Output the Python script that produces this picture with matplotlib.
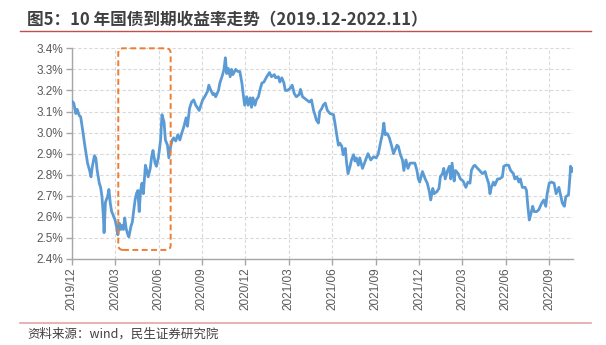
import matplotlib
matplotlib.use('Agg')
import matplotlib.pyplot as plt
from matplotlib.patches import FancyBboxPatch
from matplotlib.ticker import FuncFormatter, MultipleLocator

plt.rcParams['font.family'] = ['Noto Sans CJK SC', 'DejaVu Sans']

# trading-day index (category axis) and 10Y CGB yield, %
trade_day = [0, 3, 6, 8, 11, 13, 16, 19, 23, 26, 28, 30, 33, 35, 37, 40, 42, 44, 46, 47,
             49, 52, 54, 56, 58, 60, 63, 65, 67, 69, 71, 73, 75, 77, 79, 81, 83, 86, 88, 90,
             92, 94, 96, 98, 100, 102, 104, 107, 109, 111, 114, 116, 118, 121, 123, 126, 129, 131, 134, 136,
             139, 141, 144, 146, 148, 151, 154, 157, 160, 163, 166, 168, 171, 174, 177, 180, 182, 185, 190, 193,
             197, 199, 202, 205, 207, 209, 213, 215, 219, 221, 223, 225, 227, 230, 232, 234, 238, 241, 244, 247,
             249, 251, 254, 256, 259, 261, 263, 266, 268, 271, 273, 276, 279, 283, 287, 290, 294, 296, 300, 302,
             305, 308, 310, 313, 317, 320, 323, 326, 330, 332, 335, 337, 341, 345, 348, 351, 353, 355, 358, 360,
             363, 365, 368, 371, 375, 380, 382, 385, 387, 389, 392, 394, 397, 399, 401, 404, 406, 409, 411, 413,
             416, 418, 422, 426, 430, 434, 438, 442, 445, 448, 451, 453, 455, 458, 461, 464, 467, 469, 472, 474,
             477, 480, 482, 485, 488, 491, 495, 498, 501, 503, 505, 509, 513, 516, 519, 521, 524, 526, 530, 533,
             535, 538, 540, 542, 545, 548, 550, 552, 555, 557, 561, 564, 568, 572, 575, 578, 580, 583, 585, 589,
             592, 596, 600, 602, 605, 607, 609, 612, 614, 618, 621, 625, 627, 630, 634, 637, 641, 643, 646, 649,
             651, 654, 658, 660, 662, 664, 666, 669, 671, 675, 678, 682, 685, 688, 690, 693, 696, 700, 703, 705,
             707, 710, 712, 715, 717, 721, 723, 724, 726, 727]
yield_pct = [3.15, 3.14, 3.09, 3.11, 3.08, 3.075, 3.01, 2.94, 2.855, 2.82, 2.79, 2.84, 2.89, 2.88, 2.82, 2.76, 2.74, 2.695, 2.60, 2.525,
             2.67, 2.695, 2.73, 2.665, 2.625, 2.61, 2.585, 2.555, 2.515, 2.57, 2.54, 2.56, 2.54, 2.595, 2.545, 2.52, 2.505, 2.555, 2.575, 2.63,
             2.68, 2.71, 2.725, 2.625, 2.725, 2.76, 2.71, 2.845, 2.82, 2.79, 2.83, 2.885, 2.915, 2.855, 2.84, 2.885, 2.965, 3.085, 3.05, 2.965,
             2.94, 2.88, 2.94, 2.965, 2.975, 2.96, 2.99, 2.965, 3.00, 3.03, 3.07, 3.03, 3.115, 3.145, 3.155, 3.13, 3.12, 3.105, 3.155, 3.17,
             3.195, 3.225, 3.20, 3.18, 3.185, 3.17, 3.20, 3.235, 3.275, 3.30, 3.355, 3.28, 3.305, 3.265, 3.30, 3.275, 3.30, 3.29, 3.29, 3.235,
             3.18, 3.13, 3.17, 3.13, 3.165, 3.12, 3.165, 3.13, 3.155, 3.17, 3.20, 3.235, 3.24, 3.265, 3.285, 3.265, 3.275, 3.26, 3.265, 3.24,
             3.26, 3.235, 3.20, 3.20, 3.21, 3.225, 3.185, 3.17, 3.18, 3.205, 3.17, 3.165, 3.155, 3.145, 3.155, 3.105, 3.085, 3.06, 3.045, 3.10,
             3.115, 3.13, 3.14, 3.105, 3.09, 3.085, 3.045, 2.98, 2.94, 2.95, 2.935, 2.895, 2.925, 2.855, 2.805, 2.84, 2.87, 2.895, 2.865, 2.88,
             2.845, 2.88, 2.83, 2.865, 2.90, 2.87, 2.885, 2.88, 2.90, 2.95, 2.995, 3.045, 2.99, 2.995, 2.975, 2.94, 2.90, 2.915, 2.94, 2.935,
             2.895, 2.87, 2.82, 2.87, 2.83, 2.855, 2.855, 2.855, 2.82, 2.78, 2.765, 2.815, 2.78, 2.76, 2.72, 2.68, 2.735, 2.71, 2.72, 2.735,
             2.79, 2.805, 2.83, 2.78, 2.815, 2.84, 2.78, 2.855, 2.77, 2.82, 2.805, 2.78, 2.77, 2.74, 2.765, 2.76, 2.82, 2.84, 2.845, 2.83,
             2.82, 2.805, 2.815, 2.79, 2.76, 2.71, 2.74, 2.765, 2.75, 2.78, 2.78, 2.79, 2.84, 2.845, 2.845, 2.82, 2.805, 2.78, 2.79, 2.765,
             2.78, 2.74, 2.74, 2.725, 2.65, 2.585, 2.61, 2.65, 2.625, 2.625, 2.635, 2.665, 2.68, 2.65, 2.71, 2.76, 2.765, 2.76, 2.71, 2.725,
             2.74, 2.695, 2.665, 2.65, 2.695, 2.705, 2.79, 2.84, 2.815, 2.83]

tick_step = 63
tick_labels = ['2019/12', '2020/03', '2020/06', '2020/09', '2020/12', '2021/03',
               '2021/06', '2021/09', '2021/12', '2022/03', '2022/06', '2022/09']

# highlighted window (trading-day index range, yield range)
box_days = (67.6, 143.6)
box_yield = (2.443, 3.40)

title = '图5：10 年国债到期收益率走势（2019.12-2022.11）'
source = '资料来源：wind，民生证券研究院'

fig = plt.figure(figsize=(6.06, 3.45), dpi=100)
ax = fig.add_axes([0.1183, 0.2493, 0.8267, 0.6107])

ax.plot(trade_day, yield_pct, color='#5B9BD5', lw=2.0, solid_joinstyle='round', zorder=3)

ax.set_xlim(0, trade_day[-1])
ax.set_ylim(2.4, 3.4)
ax.yaxis.set_major_locator(MultipleLocator(0.1))
ax.yaxis.set_major_formatter(FuncFormatter(lambda v, p: '{:.1f}%'.format(v)))
ax.set_xticks([i * tick_step for i in range(len(tick_labels))])
ax.set_xticklabels(tick_labels, rotation=90)

for lab in ax.get_xticklabels() + ax.get_yticklabels():
    lab.set_family(['Liberation Sans', 'DejaVu Sans'])
    lab.set_fontsize(8.5)
    lab.set_color('#595959')

ax.grid(True, color='#D9D9D9', linestyle=(0, (3, 2)), lw=0.8, zorder=0)
for s in ['top', 'right']:
    ax.spines[s].set_visible(False)
for s in ['left', 'bottom']:
    ax.spines[s].set_color('#A6A6A6')
    ax.spines[s].set_linewidth(1.0)
ax.tick_params(axis='both', color='#A6A6A6', length=4, width=1.0, pad=2)

# rounded dashed box around the spring 2020 trough
x0, x1 = box_days
y0, y1 = box_yield
aspect = (1.0 / 210.7) / (1.0 / 0.6892)
box = FancyBboxPatch((x0, y0), x1 - x0, y1 - y0,
                     boxstyle='round,pad=0,rounding_size=7', mutation_aspect=aspect,
                     fill=False, edgecolor='#ED7D31', lw=1.4, linestyle=(0, (3, 1.8)),
                     clip_on=False, zorder=4)
ax.add_patch(box)

fig.text(0.045, 0.942, title, fontsize=12, fontweight='bold', color='#404040', va='center', ha='left')
fig.add_artist(plt.Line2D([0.033, 0.975], [0.910, 0.910], color='#C0504D', lw=1.0))
fig.add_artist(plt.Line2D([0.033, 0.975], [0.064, 0.064], color='#E6A5A5', lw=1.2))
fig.text(0.045, 0.032, source, fontsize=9, color='#404040', va='center', ha='left')

fig.savefig('out.png', dpi=100)
